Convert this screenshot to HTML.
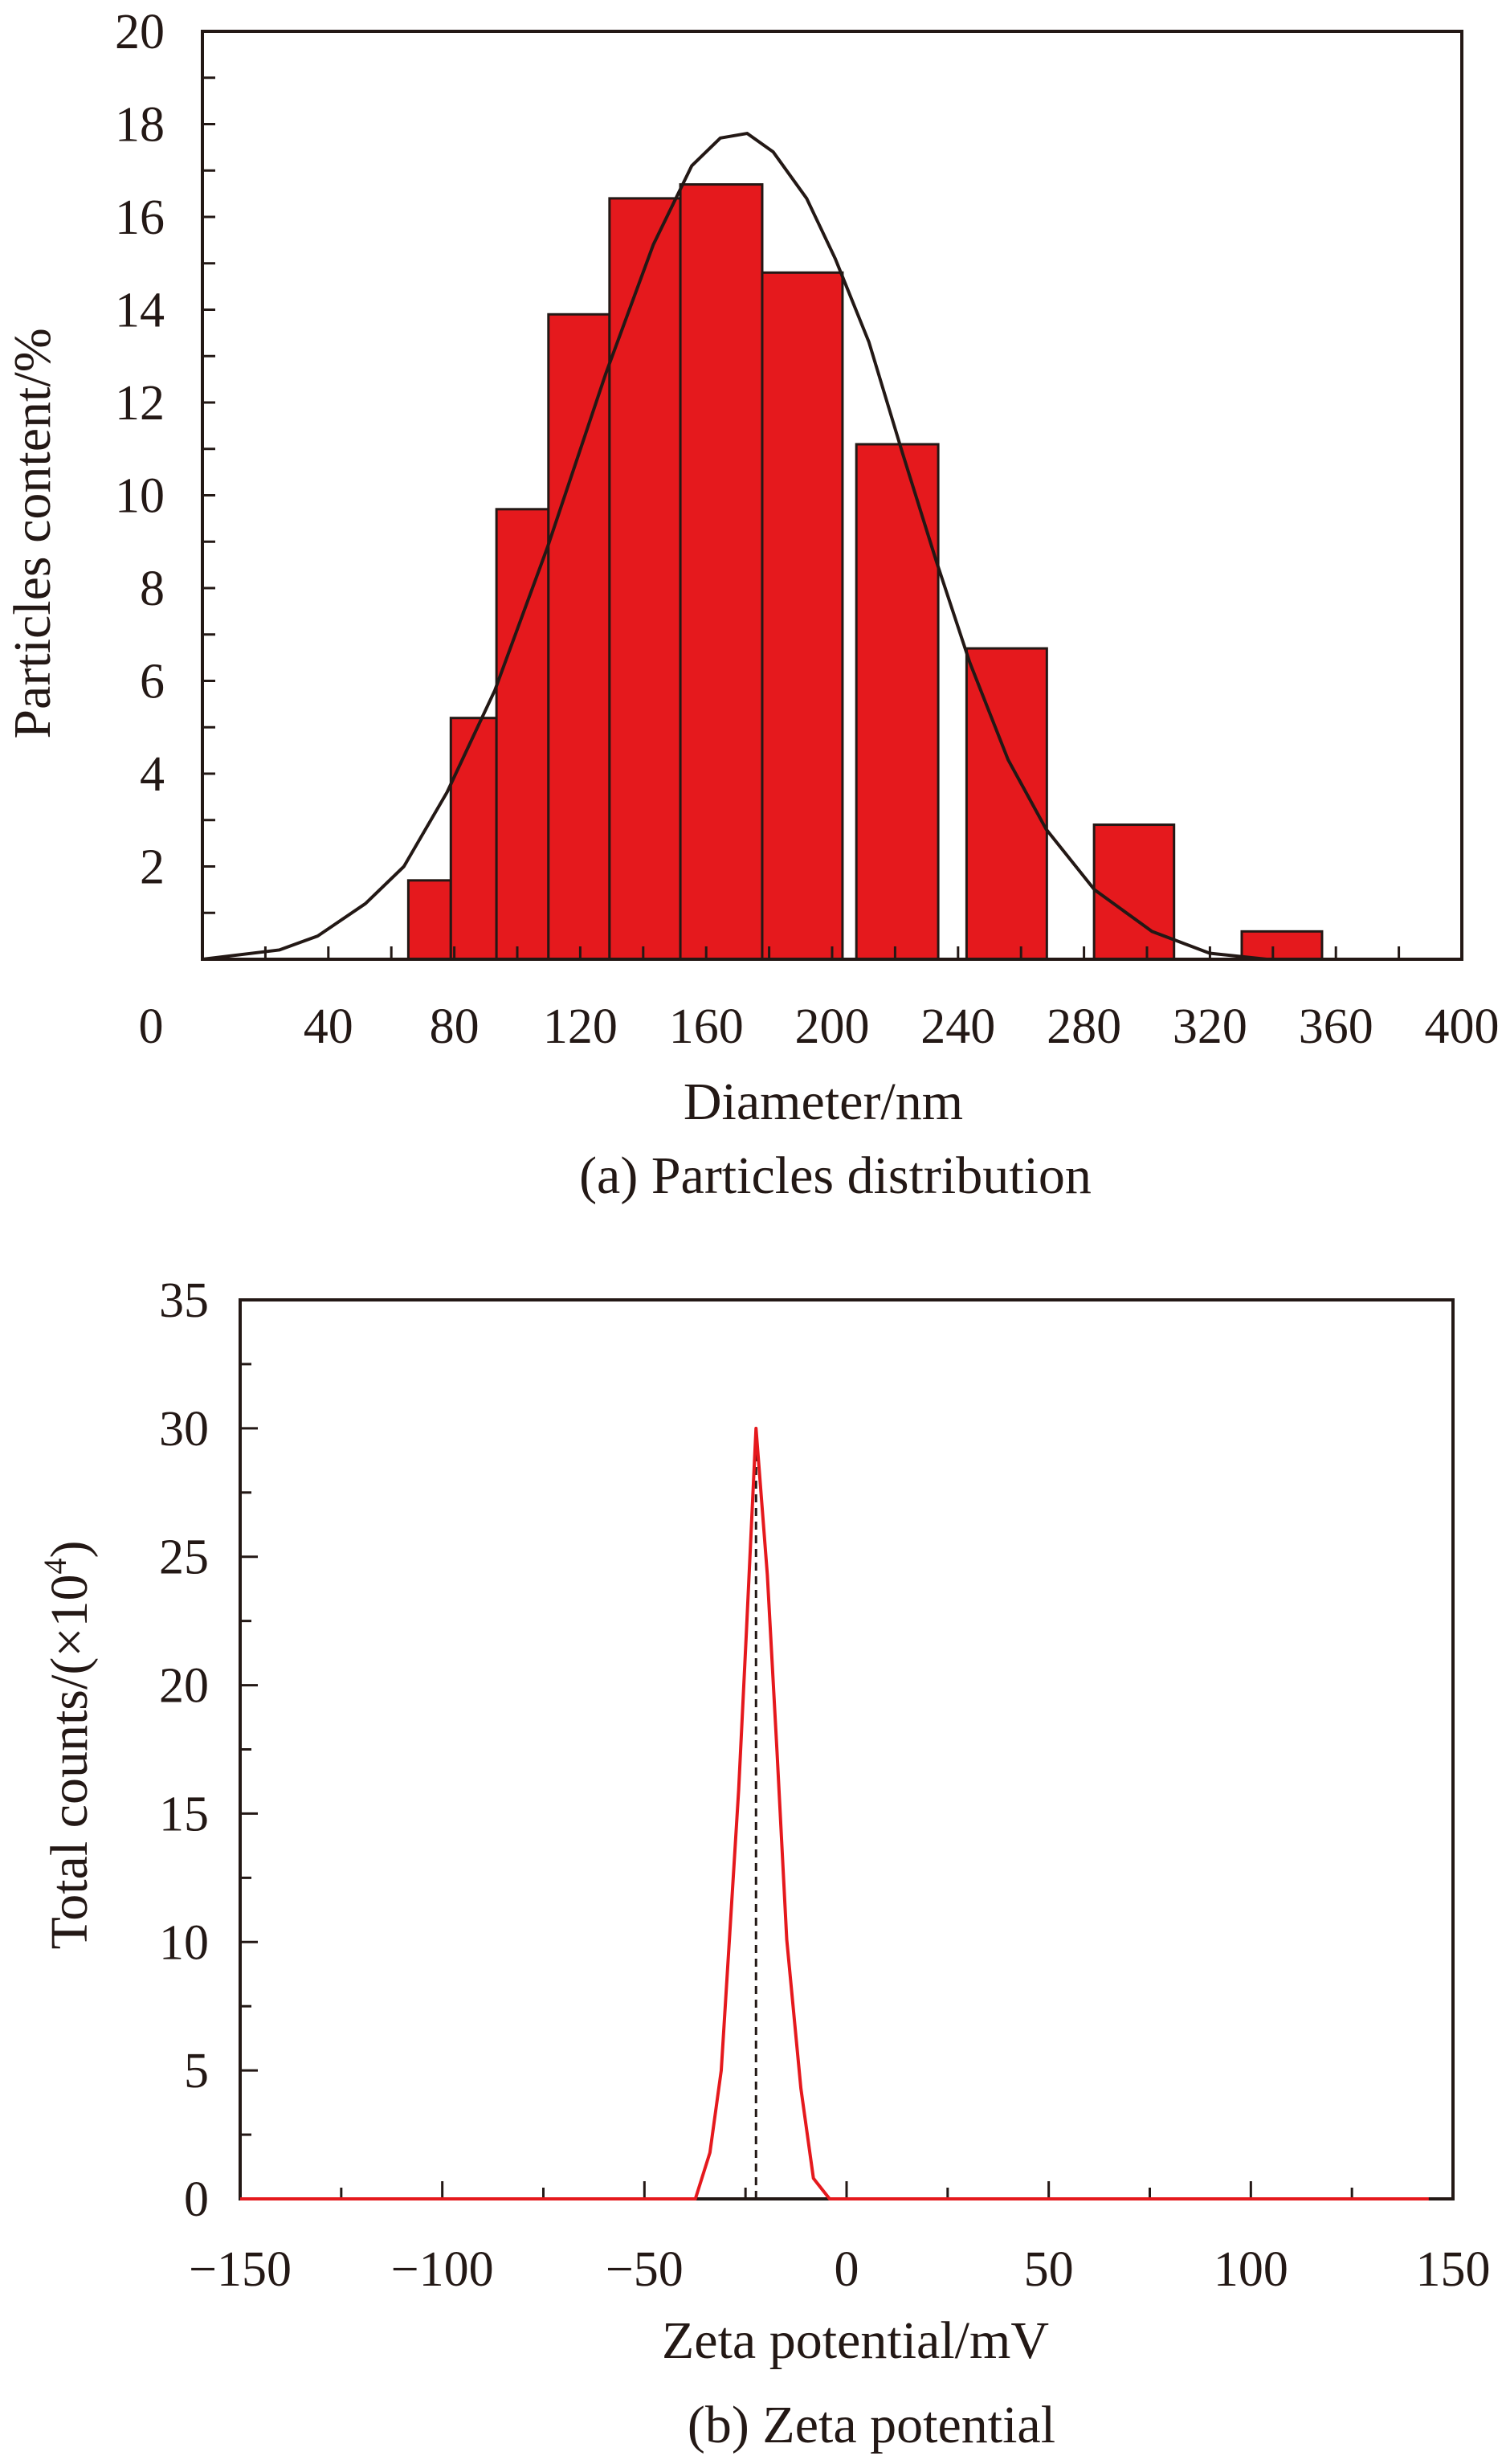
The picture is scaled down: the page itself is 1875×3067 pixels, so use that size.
<!DOCTYPE html>
<html><head><meta charset="utf-8"><style>
html,body{margin:0;padding:0;background:#fff;}
svg{display:block;font-family:"Liberation Serif",serif;}
</style></head><body>
<svg id="fig" width="1875" height="3067" viewBox="0 0 1875 3067" xmlns="http://www.w3.org/2000/svg">
<g id="ga"></g>
<g id="gb"></g>
</svg>
<script>
// ---- Chart (a) data ----
const barStart = [65.4, 78.9, 93.4, 109.9, 129.3, 151.8, 177.8, 207.7, 242.7, 283.2, 330.1];
const barEnd   = [78.9, 93.4, 109.9, 129.3, 151.8, 177.8, 203.3, 233.7, 268.2, 308.6, 355.6];
const barValue = [1.7, 5.2, 9.7, 13.9, 16.4, 16.7, 14.8, 11.1, 6.7, 2.9, 0.6];
const fitX = [0, 24.4, 36.6, 51.8, 64, 77.7, 92.9, 109.7, 128, 143.2, 155.4, 164.5, 173, 181.3, 191.9, 201, 211.7, 222.4, 233, 243.7, 255.9, 268, 283.3, 301.6, 319.9, 338];
const fitY = [0, 0.2, 0.5, 1.2, 2, 3.6, 5.8, 8.9, 12.6, 15.4, 17.1, 17.7, 17.8, 17.4, 16.4, 15.1, 13.3, 10.9, 8.6, 6.4, 4.3, 2.8, 1.5, 0.6, 0.13, 0];
const aXTicks = [40, 80, 120, 160, 200, 240, 280, 320, 360, 400];
const aYTicks = [2, 4, 6, 8, 10, 12, 14, 16, 18, 20];
// ---- Chart (b) data ----
const zetaX = [-150, -37.4, -33.8, -31, -29.1, -26.7, -24.8, -22.4, -19.6, -17.2, -14.8, -11.3, -8.2, -4.2, 144];
const zetaY = [0, 0, 1.8, 5, 9.8, 15.9, 22, 30, 24.3, 17.4, 10.1, 4.3, 0.8, 0, 0];
const zetaPeakX = [-22.4];
const zetaPeakY = [30];
const bXTicks = [-150, -100, -50, 0, 50, 100, 150];
const bYTicks = [0, 5, 10, 15, 20, 25, 30, 35];

const NS = "http://www.w3.org/2000/svg";
function mk(parent, tag, attrs, text) {
  const e = document.createElementNS(NS, tag);
  for (const k in attrs) e.setAttribute(k, attrs[k]);
  if (text !== undefined) e.textContent = text;
  parent.appendChild(e);
  return e;
}
const FS = 62;

// ---- Chart a ----
(function(){
  const g = document.getElementById('ga');
  const L = 252, R = 1820, T = 39, B = 1194;
  const sx = v => L + (v - 0) / 400 * (R - L);
  const sy = v => B - v / 20 * (B - T);
  for (let i = 0; i < barValue.length; i++) {
    const r = mk(g, 'rect', {x: sx(barStart[i]), y: sy(barValue[i]), width: sx(barEnd[i]) - sx(barStart[i]), height: B - sy(barValue[i]), fill: '#e5191d', stroke: '#231815', 'stroke-width': 3});
    
    
  }
  let d = '';
  for (let i = 0; i < fitX.length; i++) d += (i ? 'L' : 'M') + sx(fitX[i]) + ' ' + sy(fitY[i]);
  const p = mk(g, 'path', {d: d, fill: 'none', stroke: '#231815', 'stroke-width': 4, 'stroke-linejoin': 'round'});
  
  
  const fr = mk(g, 'rect', {x: L, y: T, width: R - L, height: B - T, fill: 'none', stroke: '#231815', 'stroke-width': 4});
  
  
  for (let v = 20; v < 400; v += 20) mk(g, 'line', {x1: sx(v), x2: sx(v), y1: B, y2: B - 16, stroke: '#231815', 'stroke-width': 3});
  for (let v = 1; v < 20; v++) mk(g, 'line', {x1: L, x2: L + 16, y1: sy(v), y2: sy(v), stroke: '#231815', 'stroke-width': 3});
  aYTicks.forEach(v => {
    const t = mk(g, 'text', {x: 205, y: sy(v) + 21, 'text-anchor': 'end', 'font-size': FS, fill: '#231815'}, String(v));
    
    
  });
  const z = mk(g, 'text', {x: 188, y: 1298, 'text-anchor': 'middle', 'font-size': FS, fill: '#231815'}, '0');
  
  
  aXTicks.forEach(v => {
    const t = mk(g, 'text', {x: sx(v), y: 1298, 'text-anchor': 'middle', 'font-size': FS, fill: '#231815'}, String(v));
    
    
  });
  const xt = mk(g, 'text', {x: 1025, y: 1393, 'text-anchor': 'middle', 'font-size': 66, fill: '#231815'}, 'Diameter/nm');
  
  
  const yt = mk(g, 'text', {x: 0, y: 0, 'text-anchor': 'middle', 'font-size': 66, fill: '#231815', transform: 'translate(62,664) rotate(-90)'}, 'Particles content/%');
  
  
  const c = mk(g, 'text', {x: 1040, y: 1485, 'text-anchor': 'middle', 'font-size': 66, fill: '#231815'}, '(a) Particles distribution');
  
  
})();

// ---- Chart b ----
(function(){
  const g = document.getElementById('gb');
  const L = 299, R = 1809, T = 1618, B = 2737;
  const sx = v => L + (v + 150) / 300 * (R - L);
  const sy = v => B - v / 35 * (B - T);
  const fr = mk(g, 'rect', {x: L, y: T, width: R - L, height: B - T, fill: 'none', stroke: '#231815', 'stroke-width': 4});
  
  
  for (let v = -125; v < 150; v += 25) mk(g, 'line', {x1: sx(v), x2: sx(v), y1: B, y2: B - (v % 50 === 0 ? 22 : 14), stroke: '#231815', 'stroke-width': 3});
  for (let v = 2.5; v < 35; v += 2.5) mk(g, 'line', {x1: L, x2: L + (v % 5 === 0 ? 22 : 14), y1: sy(v), y2: sy(v), stroke: '#231815', 'stroke-width': 3});
  const dl = mk(g, 'line', {x1: sx(zetaPeakX[0]), x2: sx(zetaPeakX[0]), y1: B, y2: sy(zetaPeakY[0]), stroke: '#231815', 'stroke-width': 3, 'stroke-dasharray': '10 7'});
  
  
  let d = '';
  for (let i = 0; i < zetaX.length; i++) d += (i ? 'L' : 'M') + sx(zetaX[i]) + ' ' + sy(zetaY[i]);
  const p = mk(g, 'path', {d: d, fill: 'none', stroke: '#e5191d', 'stroke-width': 4, 'stroke-linejoin': 'round'});
  
  
  bYTicks.forEach(v => {
    const t = mk(g, 'text', {x: 260, y: sy(v) + 21, 'text-anchor': 'end', 'font-size': FS, fill: '#231815'}, String(v));
    
    
  });
  bXTicks.forEach(v => {
    const t = mk(g, 'text', {x: sx(v), y: 2845, 'text-anchor': 'middle', 'font-size': FS, fill: '#231815'}, (v < 0 ? '\u2212' + (-v) : String(v)));
    
    
  });
  const xt = mk(g, 'text', {x: 1065, y: 2935, 'text-anchor': 'middle', 'font-size': 66, fill: '#231815'}, 'Zeta potential/mV');
  
  
  const yt = mk(g, 'text', {x: 0, y: 0, 'text-anchor': 'middle', 'font-size': 66, fill: '#231815', transform: 'translate(108,2172) rotate(-90)'});
  
  
  mk(yt, 'tspan', {}, 'Total counts/(\u00d710');
  mk(yt, 'tspan', {'font-size': 40, dy: -26}, '4');
  mk(yt, 'tspan', {dy: 26}, ')');
  const c = mk(g, 'text', {x: 1085, y: 3040, 'text-anchor': 'middle', 'font-size': 66, fill: '#231815'}, '(b) Zeta potential');
  
  
})();
</script>
</body></html>
